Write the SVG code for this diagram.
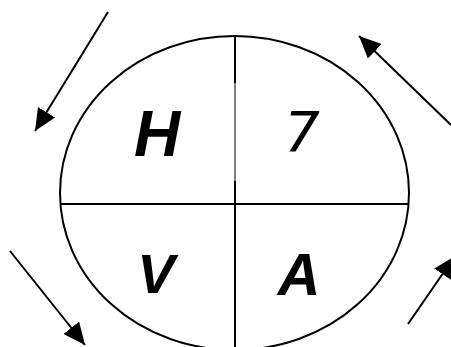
<svg xmlns="http://www.w3.org/2000/svg" width="451" height="347" viewBox="0 0 451 347">
<style>
.ln{stroke:#000;stroke-width:2;fill:none}
.ar{stroke:#000;stroke-width:2;fill:none;marker-end:url(#ah)}
.t{font-family:"Liberation Sans",Arial,sans-serif;font-style:italic;fill:#000;text-anchor:middle}
</style>
<defs>
<marker id="ah" markerUnits="userSpaceOnUse" markerWidth="24" markerHeight="20" refX="22" refY="10" orient="auto">
<path d="M0,0 L22,10 L0,20 Z" fill="#000"/>
</marker>
</defs>
<g id="circle">
<ellipse class="ln" cx="234.5" cy="193" rx="174.5" ry="157"/>
<line class="ln" x1="60" y1="204" x2="409" y2="204"/>
<line class="ln" x1="235" y1="36" x2="235" y2="83"/>
<line x1="235" y1="83" x2="235" y2="181" stroke="#000" stroke-width="1"/>
<line class="ln" x1="235" y1="181" x2="235" y2="347"/>
</g>
<g id="H"><text class="t" x="157" y="156" font-size="64" font-weight="bold">H</text></g>
<g id="seven"><text x="302" y="151" font-size="56" font-family="'DejaVu Sans',sans-serif" font-style="oblique" text-anchor="middle">7</text></g>
<g id="V"><text class="t" x="156" y="293" font-size="56" font-weight="bold">V</text></g>
<g id="A"><text class="t" x="299" y="295" font-size="59" font-weight="bold">A</text></g>
<g id="connectors">
<line class="ar" x1="108" y1="12" x2="35" y2="131"/>
<line class="ar" x1="451" y1="125" x2="359" y2="36"/>
<line class="ar" x1="10" y1="251" x2="85" y2="345"/>
<line class="ar" x1="408" y1="324" x2="455" y2="256"/>
</g>
</svg>
